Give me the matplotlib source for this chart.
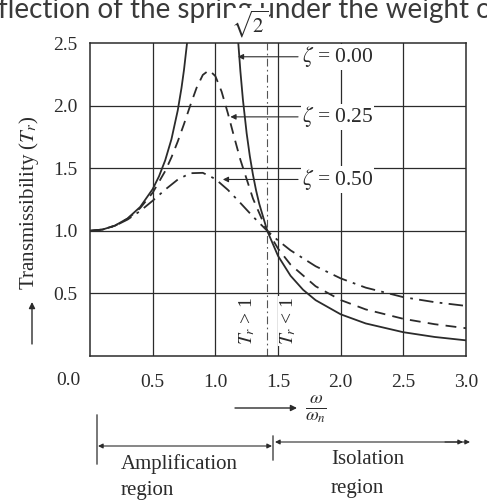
import matplotlib

matplotlib.use("Agg")

import matplotlib.pyplot as plt
import numpy as np

plt.rcParams["font.family"] = ["Liberation Serif", "DejaVu Serif"]
plt.rcParams["mathtext.fontset"] = "stix"

# frequency ratio w/wn and transmissibility values
r_undamped_low = [0.0, 0.1, 0.2, 0.3, 0.4, 0.5, 0.55, 0.6, 0.65, 0.7, 0.73, 0.75, 0.775]
t_undamped_low = [1.0, 1.01, 1.042, 1.099, 1.19, 1.333, 1.434, 1.563, 1.732, 1.961, 2.141, 2.286, 2.506]
r_undamped_high = [1.183, 1.2, 1.22, 1.25, 1.275, 1.3, 1.325, 1.35, 1.414, 1.5, 1.6,
                   1.7, 1.8, 2.0, 2.2, 2.5, 2.75, 3.0]
t_undamped_high = [2.503, 2.273, 2.048, 1.778, 1.598, 1.449, 1.323, 1.217, 1.0, 0.8, 0.641,
                   0.529, 0.446, 0.333, 0.26, 0.19, 0.152, 0.125]

r_quarter = [0.0, 0.1, 0.2, 0.3, 0.4, 0.5, 0.6, 0.65, 0.7, 0.75, 0.8, 0.85, 0.9, 0.95, 1.0,
             1.05, 1.1, 1.15, 1.2, 1.3, 1.4, 1.5, 1.6, 1.8, 2.0, 2.2, 2.5, 2.75, 3.0]
t_quarter = [1.0, 1.01, 1.041, 1.096, 1.181, 1.304, 1.477, 1.587, 1.713, 1.853, 2.001, 2.141,
             2.245, 2.283, 2.236, 2.112, 1.939, 1.75, 1.567, 1.258, 1.027, 0.858, 0.73,
             0.557, 0.447, 0.372, 0.297, 0.254, 0.222]

r_half = [0.0, 0.1, 0.2, 0.3, 0.4, 0.5, 0.6, 0.7, 0.8, 0.9, 1.0, 1.1, 1.2, 1.3, 1.414, 1.5,
          1.6, 1.8, 2.0, 2.2, 2.5, 2.75, 3.0]
t_half = [1.0, 1.01, 1.04, 1.09, 1.158, 1.24, 1.329, 1.409, 1.46, 1.463, 1.414, 1.327,
          1.222, 1.114, 1.0, 0.923, 0.844, 0.717, 0.62, 0.546, 0.47, 0.43, 0.40]

x_ticks = [0.5, 1.0, 1.5, 2.0, 2.5, 3.0]
y_ticks = [0.5, 1.0, 1.5, 2.0, 2.5]
zeta_labels = [r"$\zeta$ = 0.00", r"$\zeta$ = 0.25", r"$\zeta$ = 0.50"]
zeta_label_y = [2.39, 1.91, 1.41]
zeta_arrow_x = [1.18, 1.12, 1.06]

INK = "#2b2b2b"
W, H = 487, 501


def fpx(x, y):
    """Pixel position measured from the top-left corner -> figure pixels."""
    return (x, H - y)


fig = plt.figure(figsize=(W / 100, H / 100), dpi=100)
ax = fig.add_axes([90 / W, (H - 356) / H, (466 - 90) / W, (356 - 43) / H])

for x in x_ticks[:-1]:
    ax.axvline(x, color=INK, lw=0.9, zorder=1)
for y in y_ticks[:-1]:
    ax.axhline(y, color=INK, lw=0.9, zorder=1)
ax.axvline(np.sqrt(2), color="#555555", lw=0.8, ls=(0, (7, 3, 1.5, 3)), zorder=1)

ax.plot(r_undamped_low, t_undamped_low, color=INK, lw=1.3, zorder=3)
ax.plot(r_undamped_high, t_undamped_high, color=INK, lw=1.3, zorder=3)
ax.plot(r_quarter, t_quarter, color=INK, lw=1.3, ls=(0, (6, 4)), zorder=3)
ax.plot(r_half, t_half, color=INK, lw=1.3, ls=(0, (8, 3.5, 1.5, 3.5)), zorder=3)

for label, y, x_head in zip(zeta_labels, zeta_label_y, zeta_arrow_x):
    ax.annotate(
        "",
        xy=(x_head, y),
        xytext=(1.66, y),
        arrowprops={"arrowstyle": "-|>", "color": INK, "lw": 0.8,
                    "mutation_scale": 8, "shrinkA": 0, "shrinkB": 0},
        zorder=4,
    )
    ax.text(1.69, y, label, fontsize=15.5, ha="left", va="center", color=INK,
            bbox={"facecolor": "white", "edgecolor": "none", "pad": 0.5}, zorder=4)

ax.text(1.25, 0.28, r"$T_r$ > 1", rotation=90, fontsize=14, ha="center", va="center",
        color=INK, bbox={"facecolor": "white", "edgecolor": "none", "pad": 0.3}, zorder=4)
ax.text(1.58, 0.28, r"$T_r$ < 1", rotation=90, fontsize=14, ha="center", va="center",
        color=INK, bbox={"facecolor": "white", "edgecolor": "none", "pad": 0.3}, zorder=4)

ax.set_xlim(0, 3.0)
ax.set_ylim(0, 2.5)
ax.set_xticks(x_ticks, [f"{v:.1f}" for v in x_ticks])
ax.set_yticks(y_ticks, [f"{v:.1f}" for v in y_ticks])
ax.tick_params(length=0, labelsize=14, colors=INK)
ax.tick_params(axis="x", pad=13)
ax.tick_params(axis="y", pad=9)
for spine in ax.spines.values():
    spine.set_color(INK)
    spine.set_linewidth(1.1)

# corner label and axis titles
ax.text(-0.17, -0.077, "0.0", fontsize=14, ha="center", va="center", color=INK,
        transform=ax.get_xaxis_transform())
fig.text(29 / W, 1 - 203 / H, r"Transmissibility ($T_r$)", rotation=90, fontsize=15,
         ha="center", va="center", color=INK)
ax.annotate("", xy=fpx(32, 302), xycoords="figure pixels", xytext=fpx(32, 344),
            textcoords="figure pixels",
            arrowprops={"arrowstyle": "-|>", "color": INK, "lw": 1.0, "mutation_scale": 9,
                        "shrinkA": 0, "shrinkB": 0})
ax.annotate("", xy=fpx(297, 408), xycoords="figure pixels", xytext=fpx(235, 408),
            textcoords="figure pixels",
            arrowprops={"arrowstyle": "-|>", "color": INK, "lw": 1.0, "mutation_scale": 9,
                        "shrinkA": 0, "shrinkB": 0})
fig.text(316 / W, 1 - 409 / H, r"$\frac{\omega}{\omega_n}$", fontsize=19,
         ha="center", va="center", color=INK)

# amplification / isolation region markers
for x, y0, y1 in [(97, 412, 467), (273, 433, 463)]:
    ax.annotate("", xy=fpx(x, y0), xycoords="figure pixels", xytext=fpx(x, y1),
                textcoords="figure pixels",
                arrowprops={"arrowstyle": "-", "color": INK, "lw": 0.9})
ax.annotate("", xy=fpx(98, 446), xycoords="figure pixels", xytext=fpx(272, 446),
            textcoords="figure pixels",
            arrowprops={"arrowstyle": "<|-|>", "color": INK, "lw": 0.8, "mutation_scale": 7,
                        "shrinkA": 0, "shrinkB": 0})
ax.annotate("", xy=fpx(275, 442), xycoords="figure pixels", xytext=fpx(470, 442),
            textcoords="figure pixels",
            arrowprops={"arrowstyle": "<|-|>", "color": INK, "lw": 0.8, "mutation_scale": 7,
                        "shrinkA": 0, "shrinkB": 0})
ax.annotate("", xy=fpx(463, 442), xycoords="figure pixels", xytext=fpx(445, 442),
            textcoords="figure pixels",
            arrowprops={"arrowstyle": "-|>", "color": INK, "lw": 0.8, "mutation_scale": 7,
                        "shrinkA": 0, "shrinkB": 0})
fig.text(121 / W, 1 - 464 / H, "Amplification", fontsize=15, ha="left", va="center",
         color=INK)
fig.text(121 / W, 1 - 491 / H, "region", fontsize=15, ha="left", va="center", color=INK)
fig.text(331 / W, 1 - 460 / H, "Isolation", fontsize=15, ha="left", va="center", color=INK)
fig.text(331 / W, 1 - 488 / H, "region", fontsize=15, ha="left", va="center", color=INK)

# scan remnants of the surrounding page text
fig.text(-2 / W, 1 - 18 / H, "flection of the spring under the weight o", fontsize=20,
         family=["Lato", "DejaVu Sans"], ha="left", va="baseline", color="#3a3a3a")
fig.text(250 / W, 1 - 24 / H, r"$\sqrt{2}$", fontsize=15, ha="center", va="center",
         color=INK, bbox={"facecolor": "white", "edgecolor": "none", "pad": 0.2})

fig.savefig("out.png", dpi=100, facecolor="white")
